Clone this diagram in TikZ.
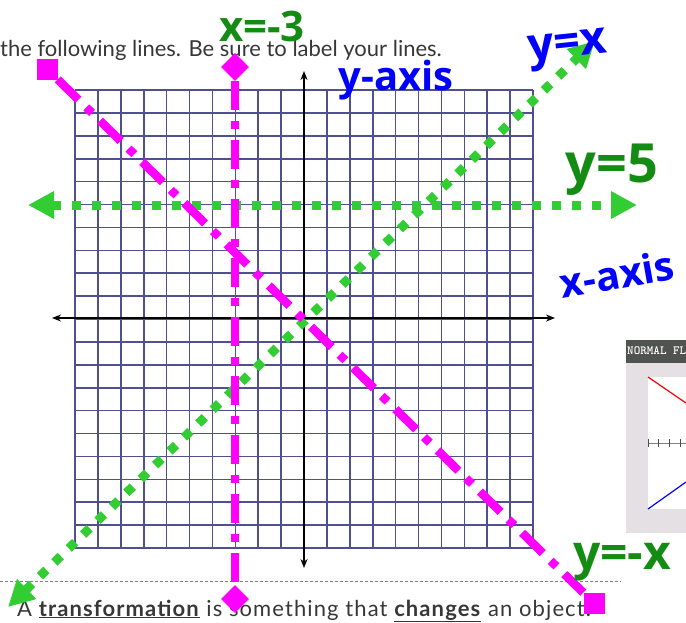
\documentclass[tikz,border=0pt]{standalone}
\usepackage{fontspec}
\setmainfont{Lato}
\newfontfamily\handfont{Open Sans}
\usetikzlibrary{arrows.meta,shapes.geometric}
\definecolor{gridblue}{RGB}{80,80,145}
\definecolor{markgreen}{RGB}{50,205,50}
\definecolor{pinkmag}{RGB}{255,0,255}
\definecolor{penblue}{RGB}{0,0,255}
\definecolor{pengreen}{RGB}{20,140,20}
\definecolor{inkgray}{RGB}{55,55,55}
\definecolor{calcbar}{RGB}{80,84,80}
\definecolor{calcpanel}{RGB}{228,224,228}

\begin{document}
\begin{tikzpicture}[x=1pt, y=-1pt,
  gridline/.style={gridblue, line width=1.6pt},
  axisline/.style={black, line width=2.2pt,
    {Stealth[length=9pt,width=7pt]}-{Stealth[length=9pt,width=7pt]}},
  greenline/.style={markgreen, line width=9pt, dash pattern=on 9pt off 11pt,
    {Triangle[length=26pt,width=26pt]}-{Triangle[length=26pt,width=26pt]}},
  pinkline/.style={pinkmag, line width=8.5pt,
    dash pattern=on 29pt off 11pt on 8pt off 11pt},
  pinksq/.style={rectangle, fill=pinkmag, minimum size=21pt, inner sep=0pt},
  pinkdia/.style={diamond, fill=pinkmag, minimum size=28pt, inner sep=0pt},
  sheettext/.style={text=inkgray, inner sep=0pt, anchor=base west,
    font=\fontsize{22}{22}\selectfont},
  pen/.style={inner sep=0pt, font=\handfont\bfseries\fontsize{#1}{#1}\selectfont},
]
  \useasboundingbox (0,0) rectangle (686,622);
  \clip (0,0) rectangle (686,622);

  % === WORKSHEET ===
  \node[sheettext] (instr) at (0,56)
    {the following lines. Be sure to label your lines.};
  \node[sheettext] (defn) at (17,616)
    {\addfontfeature{LetterSpace=5}A \underline{\textbf{transformation}} is something that \underline{\textbf{changes}} an object.};
  \draw[gray, line width=0.9pt, dash pattern=on 3pt off 2pt] (0,581) -- (621,581);

  % Grid (20 x 20)
  \foreach \i in {0,...,20} {
    \draw[gridline] ({75+22.9*\i}, 90) -- ({75+22.9*\i}, 548);
    \draw[gridline] (75, {90+22.9*\i}) -- (533, {90+22.9*\i});
  }

  % Axes
  \coordinate (yaxtop) at (304,71);
  \coordinate (yaxbot) at (304,568);
  \coordinate (xaxleft) at (52,318);
  \coordinate (xaxright) at (555,318);
  \draw[axisline] (yaxbot) -- (yaxtop);
  \draw[axisline] (xaxleft) -- (xaxright);

  % === GREEN LINES ===
  \coordinate (yfiveL) at (28,205);
  \coordinate (yfiveR) at (637,205);
  \draw[greenline] (yfiveL) -- (yfiveR);
  \coordinate (yxlow) at (8,607);
  \coordinate (yxhigh) at (595,41);
  \draw[greenline] (yxlow) -- (yxhigh);

  % === PINK LINES ===
  \node[pinkdia] (xmtop) at (235,67) {};
  \node[pinkdia] (xmbot) at (235,599) {};
  \draw[pinkline] (xmtop) -- (xmbot);
  \node[pinksq] (ynxtop) at (47,69) {};
  \node[pinksq] (ynxbot) at (594,603) {};
  \draw[pinkline] (ynxtop) -- (ynxbot);

  % === CALCULATOR SCREEN ===
  \fill[calcpanel] (626,340) rectangle (686,533);
  \fill[calcbar] (626,340) rectangle (686,363);
  \node[font=\ttfamily\bfseries\fontsize{12.5}{12.5}\selectfont, text=white,
    anchor=west, inner sep=0pt] (calctitle) at (627,351) {NORMAL FL};
  \fill[white] (648,377) rectangle (686,509);
  \draw[red, line width=1.2pt] (648,377) -- (686,403);
  \draw[blue, line width=1.2pt] (648,509) -- (686,482);
  \draw[gray, line width=1pt] (648,443) -- (686,443);
  \foreach \t in {648,658,669,680} \draw[gray!60!black] (\t,439) -- (\t,447);

  % === HANDWRITTEN LABELS ===
  \node[pen=42, text=pengreen] (lblxm3) at (262,26) {x=-3};
  \node[pen=40, text=penblue] (lblyaxis) at (396,80) {y-axis};
  \node[pen=46, text=penblue, rotate=6] (lblyx) at (568,50) {y=x};
  \node[pen=54, text=pengreen] (lbly5) at (612,170) {y=5};
  \node[pen=40, text=penblue, rotate=10, anchor=west] (lblxaxis) at (560,284) {x-axis};
  \node[pen=48, text=pengreen] (lblynx) at (622,562) {y=-x};
\end{tikzpicture}
\end{document}
